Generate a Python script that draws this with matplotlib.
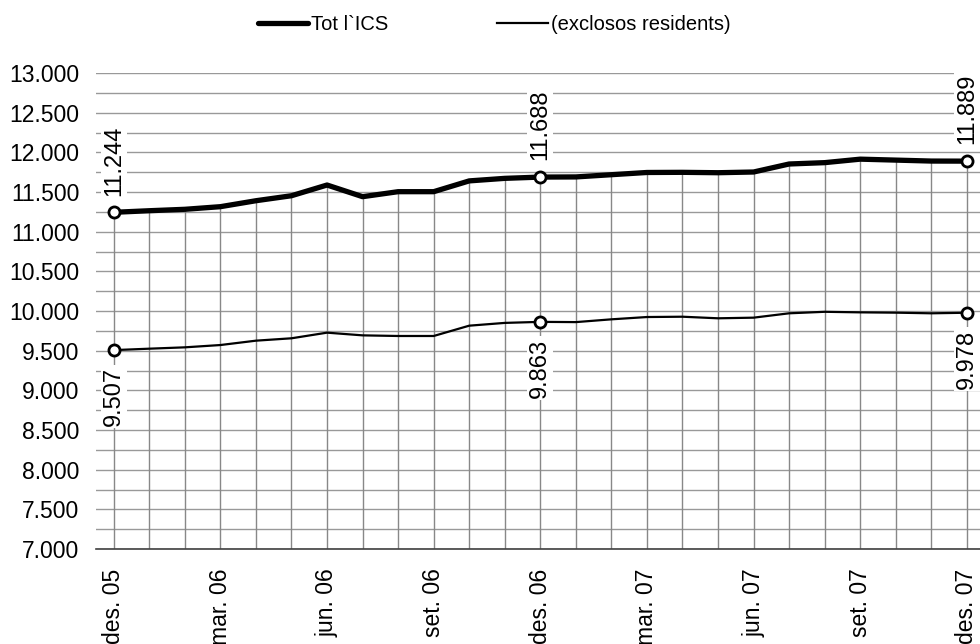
import numpy as np
import matplotlib
matplotlib.use("Agg")
import matplotlib.pyplot as plt
from matplotlib.ticker import FuncFormatter, MultipleLocator

plt.rcParams['font.family'] = ['Liberation Sans', 'DejaVu Sans']

# months des. 05 .. des. 07
months = ['des. 05', 'gen. 06', 'feb. 06', 'mar. 06', 'abr. 06', 'mai. 06', 'jun. 06',
          'jul. 06', 'ago. 06', 'set. 06', 'oct. 06', 'nov. 06', 'des. 06',
          'gen. 07', 'feb. 07', 'mar. 07', 'abr. 07', 'mai. 07', 'jun. 07',
          'jul. 07', 'ago. 07', 'set. 07', 'oct. 07', 'nov. 07', 'des. 07']
tot_ics = [11244, 11264, 11282, 11315, 11390, 11453, 11588,
           11441, 11504, 11504, 11640, 11672, 11688,
           11690, 11718, 11746, 11748, 11743, 11752,
           11853, 11870, 11914, 11902, 11890, 11889]
excl_res = [9507, 9525, 9542, 9571, 9626, 9656, 9727,
            9693, 9685, 9685, 9815, 9850, 9863,
            9860, 9895, 9924, 9928, 9908, 9916,
            9971, 9990, 9983, 9979, 9971, 9978]
labelled = [0, 12, 24]  # points with markers and value labels

x = np.arange(len(months))

fig = plt.figure(figsize=(9.8, 6.44), dpi=100)
ax = fig.add_axes([96 / 980, 1 - 549 / 644, 1 - 96 / 980, (549 - 73) / 644])

ax.set_ylim(7000, 13000)
ax.set_xlim(-0.5, 24.37)

# horizontal grid every 250
ax.yaxis.set_major_locator(MultipleLocator(500))
ax.yaxis.set_minor_locator(MultipleLocator(250))
ax.grid(axis='y', which='both', color='#999999', lw=1, zorder=0)
ax.set_axisbelow(True)

# drop lines from upper series down to the axis
ax.vlines(x, 7000, tot_ics, color='#888888', lw=1, zorder=1)

l1, = ax.plot(x, tot_ics, color='black', lw=3.8, solid_capstyle='round', zorder=3,
              label='Tot l`ICS')
l2, = ax.plot(x, excl_res, color='black', lw=1.6, zorder=3,
              label='(exclosos residents)')
ax.plot(x[labelled], np.array(tot_ics)[labelled], 'o', ms=8, mfc='white', mec='black',
        mew=2, zorder=4)
ax.plot(x[labelled], np.array(excl_res)[labelled], 'o', ms=8, mfc='white', mec='black',
        mew=2, zorder=4)

fmt = lambda v: f"{v:,.0f}".replace(',', '.')
box = dict(facecolor='white', edgecolor='none', pad=1.5)
for i in labelled:
    ax.annotate(fmt(tot_ics[i]), (x[i], tot_ics[i]), xytext=(0, 12),
                textcoords='offset points', rotation=90, ha='center', va='bottom',
                fontsize=17, bbox=box, zorder=5, annotation_clip=False)
    ax.annotate(fmt(excl_res[i]), (x[i], excl_res[i]), xytext=(0, -12),
                textcoords='offset points', rotation=90, ha='center', va='top',
                fontsize=17, bbox=box, zorder=5, annotation_clip=False)

ax.yaxis.set_major_formatter(FuncFormatter(lambda v, p: fmt(v)))
ax.set_xticks(x[::3])
ax.set_xticklabels(months[::3], rotation=90, va='top', ha='center')
ax.tick_params(axis='both', which='both', length=0, labelsize=16.5)
ax.tick_params(axis='x', pad=14)
ax.tick_params(axis='y', pad=12)

for s in ['top', 'right', 'left']:
    ax.spines[s].set_visible(False)
ax.spines['bottom'].set_color('#404040')
ax.spines['bottom'].set_linewidth(1.2)

fig.legend(handles=[l1, l2], loc='center', bbox_to_anchor=(494 / 980, 1 - 25 / 644),
           ncol=2, frameon=False, fontsize=14.5, handlelength=2.5, handletextpad=0.15,
           columnspacing=5.4)

fig.savefig('out.png', dpi=100)
